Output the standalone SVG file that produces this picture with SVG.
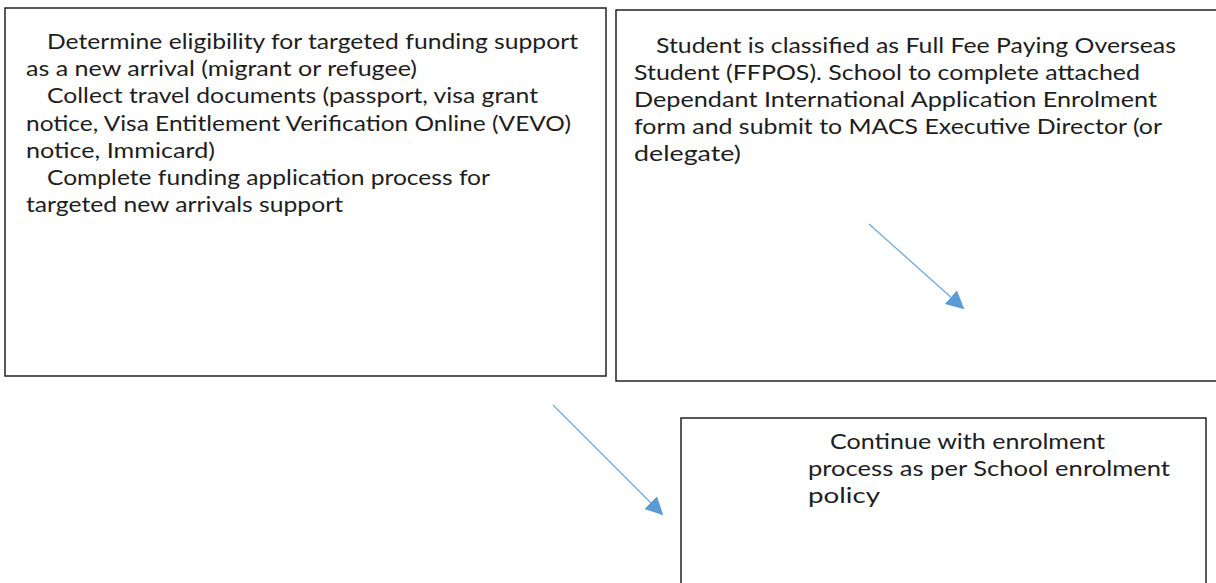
<svg xmlns="http://www.w3.org/2000/svg" width="1216" height="583" viewBox="0 0 1216 583">
<style>
.box{fill:#fff;stroke:#222;stroke-width:1.5}
.t{font-family:Lato,"Liberation Sans",sans-serif;font-size:20.5px;fill:#1e1e1e}
.conn{stroke:#6fa8dc;stroke-width:1.3;fill:none}
</style>
<defs>
<marker id="ah" viewBox="0 0 10 10" refX="9" refY="5" markerWidth="18" markerHeight="18" markerUnits="userSpaceOnUse" orient="auto">
<path d="M0,0 L10,5 L0,10 Z" fill="#5b9bd5"/>
</marker>
</defs>
<rect width="1216" height="583" fill="#fff"/>
<g id="node-eligibility">
<rect class="box" x="5" y="8" width="601" height="368"/>
<text class="t" x="47" y="49" textLength="531" lengthAdjust="spacingAndGlyphs">Determine eligibility for targeted funding support</text>
<text class="t" x="26" y="76" textLength="391" lengthAdjust="spacingAndGlyphs">as a new arrival (migrant or refugee)</text>
<text class="t" x="47" y="103" textLength="491" lengthAdjust="spacingAndGlyphs">Collect travel documents (passport, visa grant</text>
<text class="t" x="26" y="131" textLength="545" lengthAdjust="spacingAndGlyphs">notice, Visa Entitlement Verification Online (VEVO)</text>
<text class="t" x="26" y="158" textLength="189" lengthAdjust="spacingAndGlyphs">notice, Immicard)</text>
<text class="t" x="47" y="185" textLength="443" lengthAdjust="spacingAndGlyphs">Complete funding application process for</text>
<text class="t" x="26" y="212" textLength="317" lengthAdjust="spacingAndGlyphs">targeted new arrivals support</text>
</g>
<g id="node-ffpos">
<rect class="box" x="616" y="10" width="610" height="371"/>
<text class="t" x="656" y="53" textLength="520" lengthAdjust="spacingAndGlyphs">Student is classified as Full Fee Paying Overseas</text>
<text class="t" x="634" y="80" textLength="506" lengthAdjust="spacingAndGlyphs">Student (FFPOS). School to complete attached</text>
<text class="t" x="634" y="107" textLength="523" lengthAdjust="spacingAndGlyphs">Dependant International Application Enrolment</text>
<text class="t" x="634" y="134" textLength="528" lengthAdjust="spacingAndGlyphs">form and submit to MACS Executive Director (or</text>
<text class="t" x="634" y="161" textLength="107" lengthAdjust="spacingAndGlyphs">delegate)</text>
</g>
<g id="node-continue">
<rect class="box" x="681" y="418" width="525" height="190"/>
<text class="t" x="830" y="449" textLength="275" lengthAdjust="spacingAndGlyphs">Continue with enrolment</text>
<text class="t" x="808" y="476" textLength="362" lengthAdjust="spacingAndGlyphs">process as per School enrolment</text>
<text class="t" x="808" y="503" textLength="72" lengthAdjust="spacingAndGlyphs">policy</text>
</g>
<g id="connectors">
<line class="conn" x1="553" y1="405" x2="662" y2="514" marker-end="url(#ah)"/>
<line class="conn" x1="869" y1="224" x2="963" y2="308" marker-end="url(#ah)"/>
</g>
</svg>
